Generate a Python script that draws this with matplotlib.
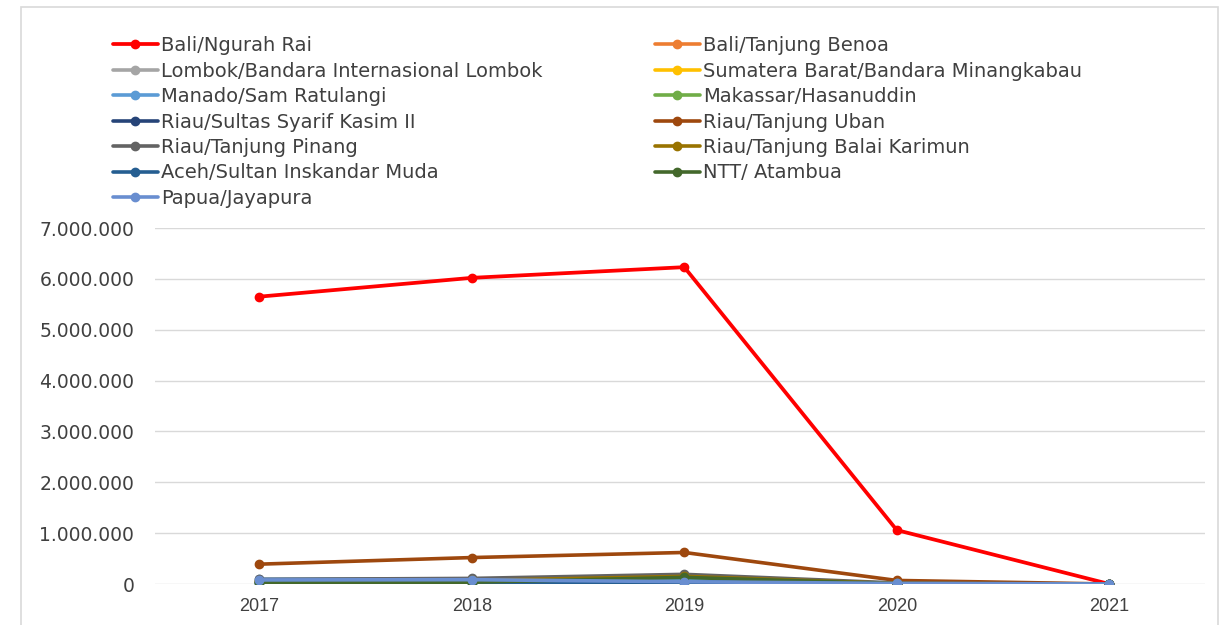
import matplotlib
matplotlib.use("Agg")
import matplotlib.pyplot as plt
from matplotlib.patches import Rectangle
from matplotlib.ticker import FuncFormatter

years = ["2017", "2018", "2019", "2020", "2021"]

names = [
    "Bali/Ngurah Rai", "Bali/Tanjung Benoa",
    "Lombok/Bandara Internasional Lombok", "Sumatera Barat/Bandara Minangkabau",
    "Manado/Sam Ratulangi", "Makassar/Hasanuddin",
    "Riau/Sultas Syarif Kasim II", "Riau/Tanjung Uban",
    "Riau/Tanjung Pinang", "Riau/Tanjung Balai Karimun",
    "Aceh/Sultan Inskandar Muda", "NTT/ Atambua",
    "Papua/Jayapura",
]

bali_ngurah_rai = [5650000, 6020000, 6230000, 1060000, 45]
bali_tanjung_benoa = [50000, 45000, 30000, 5000, 0]
lombok = [40000, 30000, 35000, 5000, 0]
sumatera_barat = [55000, 60000, 58000, 8000, 0]
manado = [95000, 100000, 80000, 10000, 0]
makassar = [15000, 16000, 18000, 3000, 0]
riau_sultas = [30000, 35000, 40000, 5000, 0]
riau_tanjung_uban = [390000, 520000, 620000, 70000, 0]
riau_tanjung_pinang = [90000, 110000, 190000, 20000, 0]
riau_balai_karimun = [60000, 70000, 150000, 10000, 0]
aceh = [20000, 25000, 30000, 3000, 0]
ntt_atambua = [30000, 35000, 130000, 5000, 0]
papua_jayapura = [80000, 85000, 45000, 10000, 0]

series = [bali_ngurah_rai, bali_tanjung_benoa, lombok, sumatera_barat, manado,
          makassar, riau_sultas, riau_tanjung_uban, riau_tanjung_pinang,
          riau_balai_karimun, aceh, ntt_atambua, papua_jayapura]

colors = ["#FF0000", "#ED7D31", "#A5A5A5", "#FFC000", "#5B9BD5", "#70AD47",
          "#264478", "#9E480E", "#636363", "#997300", "#255E91", "#43682B",
          "#698ED0"]

fig = plt.figure(figsize=(12.22, 6.25), dpi=100)
fig.patches.append(Rectangle((0.017, -0.01), 0.98, 0.999, transform=fig.transFigure,
                             fill=False, edgecolor="#d9d9d9", linewidth=1.2))
ax = fig.add_axes([0.127, 0.0656, 0.859, 0.5696])

x = list(range(len(years)))
handles = []
for i, (name, vals, c) in enumerate(zip(names, series, colors)):
    lw = 2.7 if i == 0 else 2.6
    h, = ax.plot(x, vals, color=c, linewidth=lw, marker="o", markersize=6,
                 label=name, solid_capstyle="round")
    handles.append(h)

ax.set_xlim(-0.49, 4.45)
ax.set_ylim(0, 7000000)
ax.set_yticks(range(0, 7000001, 1000000))
ax.yaxis.set_major_formatter(FuncFormatter(lambda v, p: f"{int(v):,}".replace(",", ".")))
ax.set_xticks(x)
ax.set_xticklabels(years, family="Liberation Sans", fontsize=13, color="#404040")
for lab in ax.get_yticklabels():
    lab.set_fontsize(13.5)
    lab.set_color("#404040")
ax.tick_params(axis="both", length=0)
ax.tick_params(axis="y", pad=15)
ax.tick_params(axis="x", pad=10)
ax.grid(axis="y", color="#d9d9d9", linewidth=1)
ax.set_axisbelow(True)
for s in ax.spines.values():
    s.set_visible(False)

left = handles[0::2]
right = handles[1::2]
common = dict(frameon=False, fontsize=14, handlelength=2.3, handletextpad=0.15,
              labelspacing=0.33, borderaxespad=0, borderpad=0, labelcolor="#404040")
fig.legend(handles=left, loc="upper left", bbox_to_anchor=(0.0925, 0.942), **common)
fig.legend(handles=right, loc="upper left", bbox_to_anchor=(0.536, 0.942), **common)

fig.savefig("out.png", dpi=100)
